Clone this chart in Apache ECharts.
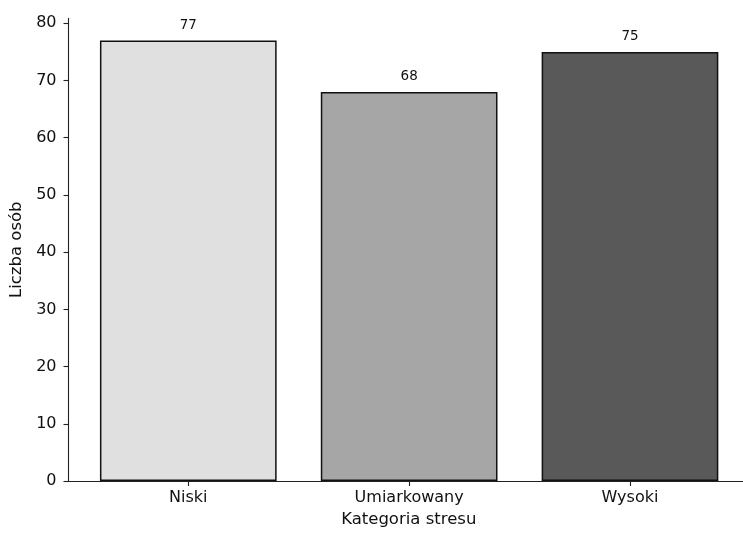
<!DOCTYPE html>
<html>
<head>
<meta charset="utf-8">
<script src="https://cdn.jsdelivr.net/npm/echarts@6/dist/echarts.min.js"></script>
<style>html,body{margin:0;padding:0;background:#fff}#c{width:743px;height:533px}</style>
</head>
<body>
<div id="c"></div>
<script>
const categories = ['Niski', 'Umiarkowany', 'Wysoki'];
const values = [77, 68, 75];
const barColors = ['#e0e0e0', '#a6a6a6', '#595959'];
const yTicks = [0, 10, 20, 30, 40, 50, 60, 70, 80];
const xTicks = [0, 1, 2];

const chart = echarts.init(document.getElementById('c'), null, {renderer: 'canvas'});
const font = 'DejaVu Sans';
chart.setOption({
  animation: false,
  grid: {left: 68.5, right: 0, top: 18.4, bottom: 51.3, containLabel: false},
  xAxis: {
    type: 'value', min: -0.5424, max: 2.5117,
    name: 'Kategoria stresu', nameLocation: 'middle', nameGap: 29,
    nameTextStyle: {fontFamily: font, fontSize: 16.5, color: '#111', padding: [0, 0, 0, 6]},
    axisLine: {show: true, onZero: false, lineStyle: {color: '#222', width: 1.1}},
    axisTick: {show: true, customValues: xTicks, length: 5, lineStyle: {color: '#222', width: 1.1}},
    axisLabel: {customValues: xTicks, margin: 9, fontFamily: font, fontSize: 16, color: '#111',
      formatter: v => categories[Math.round(v)] || ''},
    splitLine: {show: false}
  },
  yAxis: {
    type: 'value', min: 0, max: 80.85,
    name: 'Liczba osób', nameLocation: 'middle', nameGap: 38,
    nameTextStyle: {fontFamily: font, fontSize: 16.5, color: '#111'},
    axisLine: {show: true, onZero: false, lineStyle: {color: '#222', width: 1.1}},
    axisTick: {show: true, customValues: yTicks, length: 5, lineStyle: {color: '#222', width: 1.1}},
    axisLabel: {customValues: yTicks, margin: 12, fontFamily: font, fontSize: 16, color: '#111'},
    splitLine: {show: false}
  },
  series: [{
    type: 'bar',
    barWidth: 176.7,
    data: values.map((v, i) => ({value: [i, v], itemStyle: {color: barColors[i]}})),
    itemStyle: {borderColor: '#111', borderWidth: 1.5},
    label: {show: true, position: 'top', distance: 8, fontFamily: font, fontSize: 13.5, color: '#111',
      formatter: p => p.value[1]}
  }]
});
</script>
</body>
</html>
